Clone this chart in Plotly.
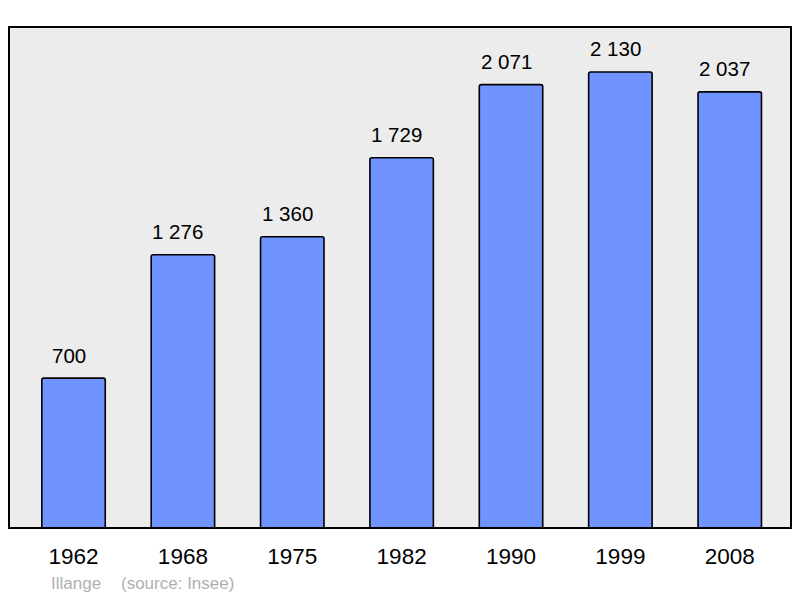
import plotly.graph_objects as go

years = ["1962", "1968", "1975", "1982", "1990", "1999", "2008"]
population = [700, 1276, 1360, 1729, 2071, 2130, 2037]
labels = ["700", "1 276", "1 360", "1 729", "2 071", "2 130", "2 037"]

# page has an 8px body margin; figure sized to fit the 800x598 window
OFF = 8
W, H = 800 - 2 * OFF, 598 - OFF
L, T = 9 - OFF, 27 - OFF
R = W - (791 - OFF)
B = H - (528 - OFF)
pw = W - L - R
ph = H - T - B
FONT = "Liberation Sans, Arial, sans-serif"

fig = go.Figure()
fig.add_trace(go.Bar(
    x=years, y=population,
    marker=dict(color="#7094ff", line=dict(color="#000000", width=1.6), cornerradius=2),
    width=0.58,
    hoverinfo="skip",
))

for i, (v, lab) in enumerate(zip(population, labels)):
    fig.add_annotation(x=i, y=v, text=lab, showarrow=False, xref="x", yref="y",
                       yanchor="middle", yshift=23, xshift=-5,
                       font=dict(family=FONT, size=20.5, color="#000"))

ysrc = -((583 - OFF) - (T + ph)) / ph
fig.add_annotation(xref="paper", yref="paper", x=(49 - 9) / pw, y=ysrc,
                   xanchor="left", yanchor="middle", text="Illange", showarrow=False,
                   font=dict(family=FONT, size=17, color="#b0b0b0"))
fig.add_annotation(xref="paper", yref="paper", x=(119 - 9) / pw, y=ysrc,
                   xanchor="left", yanchor="middle", text="(source: Insee)", showarrow=False,
                   font=dict(family=FONT, size=17, color="#b0b0b0"))

fig.add_shape(type="rect", xref="paper", yref="paper", x0=0, y0=0, x1=1, y1=1,
              line=dict(color="#000", width=2), layer="above")

fig.update_layout(
    width=W, height=H,
    margin=dict(l=L, r=R, t=T, b=B, pad=0),
    paper_bgcolor="#ffffff",
    plot_bgcolor="#ececec",
    showlegend=False,
    xaxis=dict(type="category", range=[-0.59, 6.56], showgrid=False, zeroline=False,
               ticks="outside", ticklen=8, tickcolor="rgba(0,0,0,0)",
               tickfont=dict(family=FONT, size=22.5, color="#000")),
    yaxis=dict(range=[0, 2340], showgrid=False, zeroline=False, showticklabels=False, ticks=""),
)

fig.write_html("out.html")
